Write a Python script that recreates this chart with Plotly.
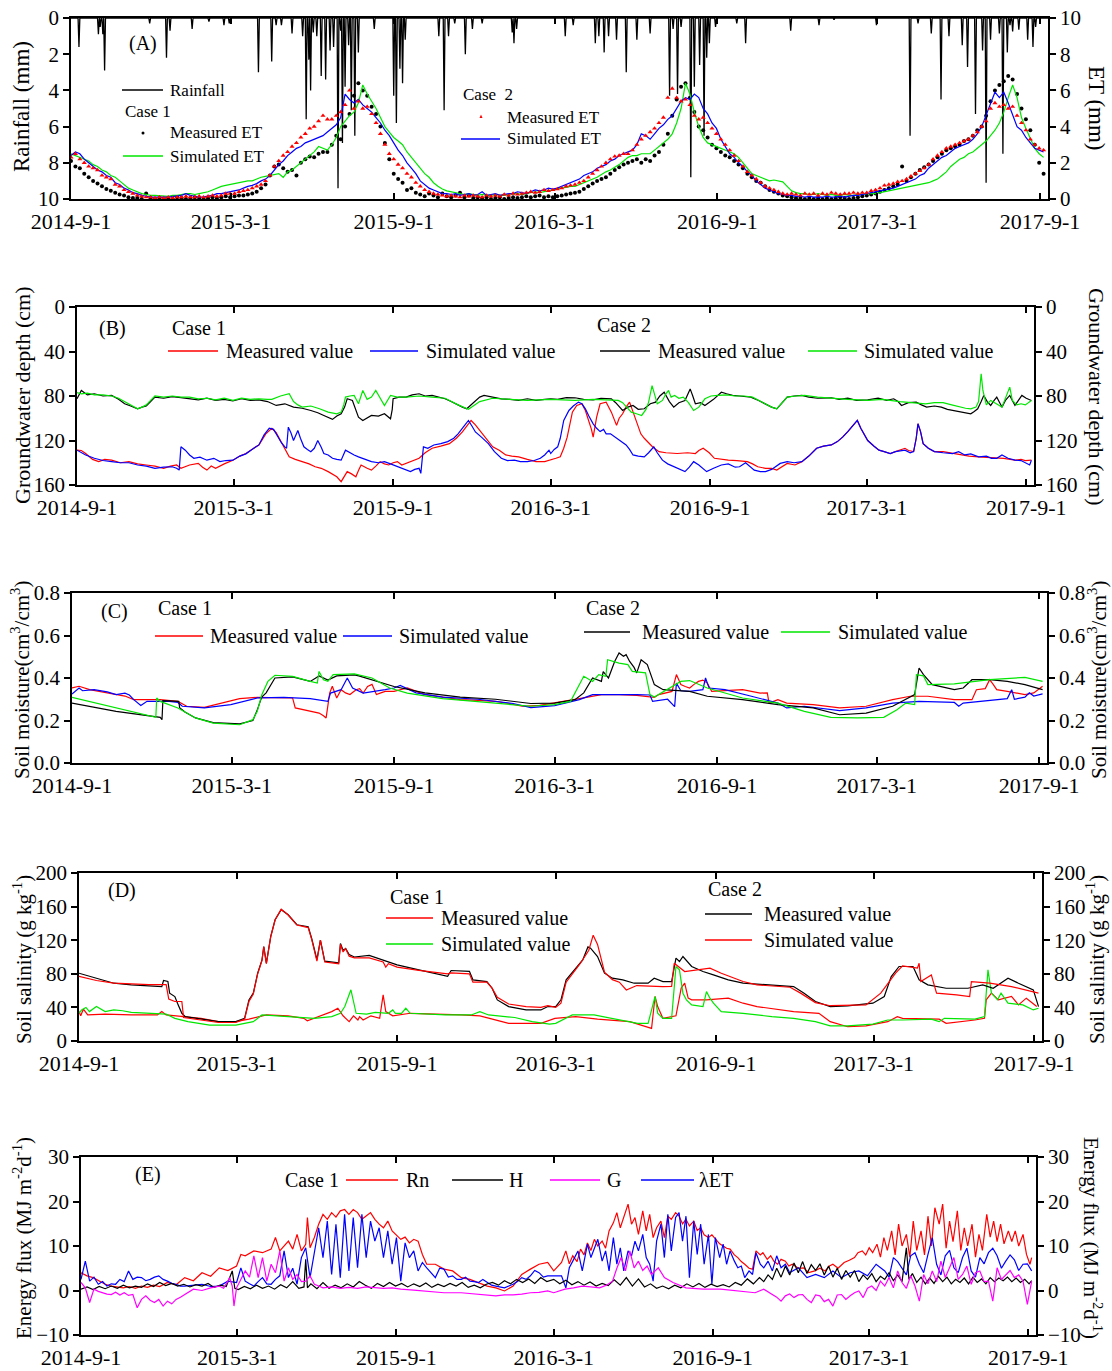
import numpy as np
import pandas as pd
import plotly.graph_objects as go

# ---------------------------------------------------------------------------
# Data (day offsets counted from 2014-09-01)
# ---------------------------------------------------------------------------

# (A) daily rainfall events: (day, mm)
rain_events = [
    (9, 1.6), (31, 0.9), (33, 0.5), (36, 0.9), (38, 2.9), (89, 0.3), (108, 2.2), (112, 0.7),
    (137, 0.6), (156, 0.2), (173, 0.4), (179, 0.3), (212, 3.0), (227, 2.4), (232, 0.4),
    (238, 0.4), (250, 0.85), (262, 1.0), (266, 5.6), (269, 2.3), (271, 4.0), (274, 0.8),
    (278, 1.0), (283, 3.2), (288, 3.4), (293, 1.8), (297, 1.6), (302, 9.4), (305, 0.7),
    (307, 6.9), (310, 3.8), (314, 1.5), (317, 5.1), (321, 6.5), (325, 1.9), (343, 0.6),
    (365, 4.3), (368, 5.8), (372, 2.8), (375, 3.6), (378, 1.2), (416, 1.0), (422, 5.1),
    (427, 1.0), (434, 0.3), (446, 2.0), (454, 0.6), (465, 0.3), (499, 0.8), (501, 1.4),
    (504, 0.6), (559, 1.0), (568, 0.4), (593, 1.4), (597, 1.0), (603, 1.9), (608, 1.0),
    (617, 1.2), (628, 3.0), (640, 1.2), (655, 0.85), (677, 4.3), (681, 0.6), (686, 4.2),
    (690, 0.5), (701, 8.8), (705, 3.8), (711, 2.6), (716, 6.5), (719, 2.2), (722, 1.4),
    (729, 0.5), (753, 0.3), (763, 1.4), (814, 0.7), (846, 0.4), (863, 0.1), (911, 0.4),
    (949, 6.5), (958, 0.3), (973, 0.85), (984, 4.5), (993, 1.0), (1008, 1.5), (1014, 2.7),
    (1023, 5.3), (1031, 1.8), (1035, 9.1), (1040, 1.2), (1050, 0.85), (1054, 7.5),
    (1059, 1.9), (1062, 0.4), (1065, 0.75), (1072, 0.65), (1082, 1.2), (1088, 1.6), (1091, 0.5),
]

# (A) ET (mm), one value every 5 days starting on day 0
et_c1_meas = [
    2.1, 1.8, 1.7, 1.4, 1.2, 1.0, 0.85, 0.7, 0.55, 0.45, 0.35, 0.25, 0.2, 0.1, 0.05, 0.05, 0.0, 0.3, 0.05,
    0.0, 0.05, 0.0, 0.05, 0.0, 0.1, 0.05, 0.0, 0.05, 0.1, 0.05, 0.0, 0.05, 0.1, 0.05, 0.1, 0.15, 0.1,
    0.15, 0.2, 0.2, 0.25, 0.3, 0.4, 0.6, 0.8, 1.3, 1.8, 1.9, 1.7, 1.5, 1.6, 1.3, 2.0, 2.2, 2.35, 2.3,
    2.5, 2.6, 2.6, 3.0, 3.5, 3.3, 4.0, 4.7, 5.7, 6.4, 6.0, 5.7, 5.1, 4.7, 4.0, 3.1, 2.2, 1.4,
    1.1, 0.9, 0.5, 0.6, 0.35, 0.25, 0.15, 0.3, 0.2, 0.1, 0.3, 0.15, 0.1, 0.2, 0.35, 0.1, 0.2, 0.05,
    0.1, 0.05, 0.1, 0.0, 0.05, 0.1, 0.0, 0.05, 0.1, 0.05, 0.1, 0.15, 0.1, 0.15, 0.2, 0.1, 0.15, 0.1,
    0.15, 0.2, 0.25, 0.3, 0.35, 0.4, 0.55, 0.7, 0.85, 1.0, 1.1, 1.2, 1.4, 1.6, 1.75, 1.9, 2.0, 2.1,
    2.2, 2.0, 2.2, 2.1, 2.4, 2.6, 3.0, 3.6, 4.6, 5.5, 6.2, 6.4, 5.6, 4.8, 4.0, 3.8, 3.4, 3.0, 2.8,
    2.6, 2.4, 2.3, 2.1, 1.9, 1.7, 1.4, 1.2, 1.0, 0.9, 0.7, 0.5, 0.4, 0.3, 0.2, 0.15, 0.1, 0.05,
    0.05, 0.0, 0.05, 0.0, 0.05, 0.0, 0.05, 0.0, 0.05, 0.1, 0.05, 0.0, 0.05, 0.1, 0.15, 0.2, 0.25, 0.3,
    0.4, 0.5, 0.6, 0.7, 0.8, 1.8, 1.0, 1.2, 1.4, 1.6, 1.75, 1.9, 2.1, 2.3, 2.5, 2.7, 2.8, 2.9, 3.0,
    3.2, 3.3, 3.5, 3.8, 4.0, 4.6, 5.4, 6.0, 6.3, 6.5, 6.8, 6.6, 5.8, 5.0, 4.4, 3.8, 3.0, 2.0, 1.4,
]
et_c1_sim = [
    2.5, 2.4, 2.3, 2.2, 2.1, 1.9, 1.8, 1.6, 1.5, 1.3, 1.2, 1.0, 0.8, 0.6, 0.5, 0.4, 0.3, 0.25, 0.2,
    0.2, 0.18, 0.15, 0.15, 0.2, 0.2, 0.25, 0.3, 0.3, 0.25, 0.3, 0.35, 0.4, 0.5, 0.6, 0.7, 0.75, 0.8,
    0.85, 0.9, 0.95, 1.0, 1.0, 1.1, 1.2, 1.25, 1.3, 1.35, 1.4, 1.2, 1.5, 1.6, 1.8, 2.0, 2.2, 2.4, 2.6,
    2.9, 2.8, 2.7, 3.0, 3.4, 4.0, 4.3, 4.6, 4.8, 5.3, 6.3, 5.8, 5.4, 5.0, 4.5, 4.0, 3.7, 3.4,
    3.2, 3.0, 2.6, 2.3, 2.0, 1.7, 1.4, 1.2, 0.9, 0.7, 0.55, 0.45, 0.4, 0.35, 0.3, 0.25, 0.3, 0.25,
    0.2, 0.25, 0.2, 0.2, 0.25, 0.2, 0.2, 0.25, 0.3, 0.3, 0.25, 0.3, 0.35, 0.4, 0.35, 0.4, 0.45, 0.5,
    0.55, 0.6, 0.65, 0.7, 0.7, 0.8, 0.9, 1.0, 1.1, 1.2, 1.35, 1.5, 1.6, 1.75, 1.9, 2.1, 2.3, 2.4,
    2.4, 2.5, 2.5, 2.5, 2.7, 2.9, 3.1, 3.3, 3.6, 4.2, 5.0, 6.4, 5.8, 4.8, 4.0, 3.4, 3.1, 3.0, 2.9,
    2.8, 2.7, 2.6, 2.5, 2.3, 2.0, 1.7, 1.4, 1.3, 1.2, 1.1, 1.0, 1.05, 1.0, 0.95, 0.7, 0.45, 0.35,
    0.3, 0.3, 0.25, 0.25, 0.3, 0.25, 0.2, 0.25, 0.2, 0.2, 0.25, 0.2, 0.2, 0.25, 0.25, 0.3, 0.3, 0.3,
    0.35, 0.4, 0.45, 0.5, 0.55, 0.6, 0.65, 0.7, 0.75, 0.8, 0.85, 0.9, 1.0, 1.1, 1.3, 1.5, 1.8, 2.0,
    2.2, 2.3, 2.5, 2.6, 2.8, 3.0, 3.2, 3.5, 3.8, 4.2, 4.8, 5.6, 6.3, 5.6, 4.5, 3.9, 3.3, 2.8, 2.5, 2.3,
]
et_c2_meas = [
    2.3, 2.5, 2.2, 2.0, 1.8, 1.7, 1.6, 1.3, 1.2, 1.1, 0.8, 0.7, 0.5, 0.4, 0.3, 0.2, 0.15, 0.1, 0.1,
    0.05, 0.1, 0.05, 0.1, 0.05, 0.1, 0.1, 0.15, 0.1, 0.1, 0.15, 0.1, 0.15, 0.2, 0.15, 0.2, 0.3, 0.3,
    0.3, 0.4, 0.45, 0.5, 0.6, 0.7, 0.8, 1.0, 1.3, 1.8, 2.1, 2.4, 2.6, 2.9, 3.1, 3.4, 3.6, 3.9, 4.0,
    4.3, 4.6, 4.4, 4.4, 4.6, 4.8, 5.2, 6.0, 5.0, 5.4, 5.0, 5.1, 4.7, 4.2, 3.6, 3.0, 2.5, 2.2,
    1.9, 1.7, 1.4, 1.2, 0.9, 0.7, 0.5, 0.4, 0.3, 0.25, 0.2, 0.15, 0.2, 0.15, 0.1, 0.2, 0.15, 0.2,
    0.15, 0.1, 0.2, 0.15, 0.2, 0.15, 0.25, 0.2, 0.3, 0.25, 0.3, 0.35, 0.4, 0.35, 0.4, 0.5, 0.45, 0.5,
    0.55, 0.6, 0.7, 0.75, 0.8, 0.9, 1.0, 1.2, 1.4, 1.6, 1.8, 2.0, 2.2, 2.35, 2.4, 2.5, 2.5, 2.7,
    3.0, 3.3, 3.5, 3.7, 3.9, 4.2, 4.5, 5.6, 6.1, 5.6, 5.4, 5.5, 5.2, 4.6, 4.4, 4.5, 4.2, 3.9, 3.6,
    3.3, 3.0, 2.7, 2.4, 2.1, 1.8, 1.5, 1.3, 1.1, 0.9, 0.7, 0.6, 0.5, 0.4, 0.3, 0.25, 0.3, 0.25,
    0.2, 0.3, 0.25, 0.3, 0.2, 0.3, 0.25, 0.35, 0.3, 0.25, 0.3, 0.3, 0.35, 0.3, 0.35, 0.35, 0.45, 0.5,
    0.6, 0.75, 0.8, 0.85, 0.95, 1.0, 1.1, 1.25, 1.4, 1.55, 1.7, 1.9, 2.2, 2.4, 2.6, 2.8, 2.9, 3.0,
    3.1, 3.2, 3.3, 3.5, 3.7, 4.0, 4.3, 5.0, 5.3, 5.1, 5.2, 5.0, 5.1, 4.6, 4.2, 3.8, 3.3, 3.0, 2.8, 2.7,
]
et_c2_sim = [
    2.4, 2.6, 2.5, 2.2, 2.0, 1.8, 1.6, 1.5, 1.3, 1.2, 0.9, 0.8, 0.6, 0.5, 0.35, 0.3, 0.2, 0.15, 0.1,
    0.1, 0.12, 0.1, 0.1, 0.12, 0.15, 0.2, 0.3, 0.2, 0.15, 0.1, 0.12, 0.15, 0.2, 0.3, 0.3, 0.35, 0.4,
    0.45, 0.5, 0.6, 0.7, 0.75, 0.85, 1.0, 1.1, 1.3, 1.6, 1.9, 2.1, 2.4, 2.6, 2.8, 2.9, 3.1, 3.2, 3.3,
    3.4, 3.5, 3.7, 3.9, 4.1, 4.5, 5.8, 5.5, 5.3, 5.5, 5.2, 5.0, 4.8, 4.5, 4.2, 3.8, 3.5, 3.1,
    2.7, 2.4, 2.0, 1.7, 1.4, 1.0, 0.8, 0.6, 0.5, 0.4, 0.3, 0.3, 0.25, 0.3, 0.2, 0.25, 0.3, 0.2,
    0.25, 0.4, 0.2, 0.25, 0.3, 0.2, 0.25, 0.3, 0.3, 0.4, 0.35, 0.3, 0.4, 0.5, 0.45, 0.5, 0.6, 0.55,
    0.6, 0.7, 0.8, 0.9, 1.0, 1.1, 1.3, 1.4, 1.5, 1.7, 1.8, 1.9, 2.1, 2.2, 2.4, 2.5, 2.6, 2.7,
    3.0, 3.6, 3.5, 3.3, 3.6, 3.9, 4.1, 4.4, 4.6, 5.0, 5.4, 5.6, 5.5, 5.8, 5.6, 5.0, 4.7, 4.2, 3.9,
    3.3, 2.9, 2.5, 2.3, 2.0, 1.8, 1.5, 1.3, 1.0, 0.8, 0.6, 0.5, 0.4, 0.3, 0.25, 0.2, 0.2, 0.15,
    0.15, 0.1, 0.15, 0.1, 0.12, 0.1, 0.15, 0.1, 0.12, 0.15, 0.1, 0.15, 0.2, 0.2, 0.25, 0.3, 0.35, 0.4,
    0.45, 0.5, 0.55, 0.6, 0.7, 0.8, 0.9, 1.0, 1.1, 1.3, 1.4, 1.7, 1.9, 2.1, 2.3, 2.4, 2.6, 2.8,
    2.9, 3.0, 3.1, 3.3, 3.6, 4.0, 4.6, 5.3, 5.9, 5.6, 5.9, 5.3, 4.6, 4.0, 3.8, 3.4, 3.1, 2.8, 2.7, 2.6,
]

# (B) groundwater depth (cm): (day, value)
gw_c1_meas = [
    (0, 128.7), (5, 129), (10, 131.7), (18, 137), (25, 139), (32, 137), (40, 137.7), (50, 140), (60, 139),
    (70, 141), (80, 142), (90, 143), (100, 145), (108, 143), (115, 142), (120, 145), (130, 142), (140, 140.6),
    (145, 144), (150, 146.6), (155, 143), (160, 145), (170, 141), (180, 137.7), (188, 134), (195, 131.7),
    (202, 128), (210, 124), (218, 114), (225, 109), (230, 113), (235, 120), (240, 128), (245, 134.7),
    (252, 137), (260, 139), (268, 141), (275, 143.6), (282, 145), (290, 148), (295, 150), (300, 152.6),
    (305, 157), (308, 153), (312, 148), (317, 150), (322, 152.6), (325, 147), (328, 142), (335, 145),
    (340, 146.6), (345, 143), (350, 139), (355, 141), (360, 142), (365, 140), (370, 139), (375, 142),
    (380, 140.6), (388, 138), (395, 136), (402, 131), (410, 127), (420, 125), (430, 122.8), (438, 118),
    (445, 112.3), (450, 107), (455, 102), (460, 106), (465, 111), (472, 118), (480, 125.7), (488, 129),
    (495, 133), (502, 134), (510, 134.7), (520, 137), (530, 139), (540, 139), (547, 137.7), (553, 136),
    (558, 134.7), (562, 127), (566, 117), (569, 104), (572, 94.5), (577, 88.5), (583, 87), (587, 93),
    (591, 102), (594, 110), (596, 117), (598, 108), (600, 99), (604, 87), (611, 85.5), (617, 94.5),
    (620, 100), (623, 106.4), (626, 100), (630, 96), (634, 90), (638, 85.5), (641, 92), (644, 99),
    (648, 107), (651, 114), (655, 118), (659, 121), (665, 126), (672, 130), (680, 131), (693, 131.7),
    (705, 131), (714, 131.7), (718, 129), (723, 127), (730, 131), (736, 136), (744, 137), (752, 137.7),
    (762, 138), (774, 139), (780, 141), (786, 143.6), (795, 145), (802, 145), (808, 146.6), (815, 143),
    (820, 140.6), (829, 142), (837, 139), (845, 134), (854, 127), (862, 125), (871, 124), (878, 121),
    (884, 117), (890, 112), (897, 105), (901, 102), (905, 109), (913, 120), (920, 125), (926, 128.7),
    (932, 130), (939, 131.7), (945, 130), (956, 127), (960, 129), (966, 130), (969, 118), (971, 105),
    (974, 112), (977, 122.8), (983, 127), (990, 130), (1000, 130), (1011, 131.7), (1020, 133),
    (1030, 134), (1041, 134.7), (1050, 135), (1062, 136), (1070, 136), (1083, 137.7), (1090, 137),
    (1095, 138), (1102, 137.7),
]
gw_c1_sim = [
    (0, 128.7), (5, 131), (10, 133), (20, 136), (30, 138), (40, 139), (50, 140), (60, 140), (70, 142),
    (80, 143), (90, 145), (100, 144), (110, 143.6), (115, 145), (118, 146.6), (120, 125.7), (125, 128.7),
    (130, 133), (135, 136), (142, 135), (150, 137.7), (158, 136), (165, 139), (172, 138), (180, 137.7),
    (188, 134), (195, 132), (202, 128), (210, 124), (216, 115), (222, 109), (227, 110), (232, 117),
    (236, 122), (240, 125.7), (242, 127), (244, 108), (247, 113), (250, 120), (253, 115), (255, 111),
    (258, 118), (262, 125.7), (266, 128), (270, 130), (274, 127), (278, 120), (282, 126), (285, 131.7),
    (290, 133), (295, 136), (300, 137), (305, 137.7), (310, 128.7), (315, 131), (320, 133), (325, 134.7),
    (332, 137), (340, 139), (348, 140), (355, 139), (362, 141), (370, 143.6), (378, 146), (385, 148),
    (390, 146), (395, 145), (397, 149.6), (400, 125.7), (405, 127), (412, 124), (420, 122.8), (428, 121),
    (435, 118), (440, 114), (446, 108), (452, 102), (456, 107), (460, 112.3), (467, 117), (475, 122.8),
    (482, 130), (490, 136), (497, 138), (505, 137.7), (512, 139), (520, 139), (528, 138), (535, 136),
    (540, 133), (545, 128.7), (547, 131.7), (551, 128), (555, 125.7), (558, 118), (562, 102), (565, 97),
    (568, 93), (573, 89), (579, 85.5), (583, 87), (587, 91.5), (591, 98), (596, 105), (600, 109),
    (604, 112), (608, 110), (611, 114), (616, 114), (621, 117), (627, 120), (634, 124), (638, 128),
    (642, 133), (648, 134), (655, 134.7), (660, 131), (666, 125.7), (670, 131), (676, 137.7), (682, 141),
    (689, 143.6), (695, 146), (702, 148), (707, 144), (712, 139), (718, 142), (727, 148), (735, 145),
    (744, 142), (752, 141), (760, 144), (765, 143.6), (772, 140), (782, 146.6), (789, 148), (795, 148),
    (802, 146), (812, 140.6), (820, 139), (828, 140), (837, 139), (845, 134), (854, 127), (862, 125),
    (871, 124), (878, 121), (884, 117), (890, 112), (897, 105), (901, 102), (905, 109), (913, 120),
    (920, 125), (926, 128.7), (932, 130), (939, 131.7), (945, 130), (956, 128.7), (962, 131), (966, 130),
    (969, 118), (971, 105), (974, 112), (977, 122.8), (983, 127), (990, 130), (1000, 131), (1011, 131.7),
    (1018, 130), (1025, 133), (1032, 132), (1041, 134.7), (1050, 134), (1056, 136), (1062, 136),
    (1068, 133), (1075, 136), (1083, 137.7), (1090, 138), (1095, 140), (1100, 142), (1102, 137.7),
]
gw_c2_meas = [
    (0, 82.5), (5, 75), (12, 79), (20, 78), (30, 80), (40, 79.5), (48, 83), (55, 87), (62, 89), (70, 91.5),
    (75, 90), (80, 89), (85, 85), (90, 81), (100, 82), (110, 80.5), (120, 81.5), (130, 82.5), (140, 83.5),
    (150, 82), (160, 84), (170, 83), (180, 84.5), (190, 82.5), (200, 84), (210, 83.5), (220, 85),
    (230, 88.5), (240, 87), (250, 90), (260, 91), (270, 93), (278, 95), (285, 97.5), (290, 99), (295, 101),
    (300, 98), (305, 96), (309, 90), (312, 82.5), (318, 84), (322, 92), (325, 99), (330, 102), (335, 100),
    (340, 97.5), (348, 98), (355, 96), (362, 100.5), (364, 92), (365, 82.5), (372, 81), (380, 81),
    (387, 79), (395, 78), (402, 80), (410, 79.5), (418, 81), (425, 82.5), (432, 85), (440, 88.5),
    (445, 90), (450, 91.5), (455, 88), (460, 84), (465, 81), (470, 79.5), (480, 81), (490, 82.5),
    (500, 83), (510, 84), (520, 82.5), (530, 84), (540, 83), (547, 82.5), (555, 83), (565, 81.5),
    (575, 81.6), (585, 83), (596, 83.5), (605, 82), (617, 82.5), (622, 86), (630, 93), (636, 90),
    (642, 88.5), (648, 92), (655, 91.5), (662, 87), (668, 85.5), (673, 80), (678, 76.6), (684, 85),
    (689, 90), (695, 86), (702, 84), (705, 78), (708, 73.6), (711, 80), (714, 87), (720, 86), (725, 88.5),
    (735, 83), (744, 76.6), (750, 78), (757, 79.5), (765, 80), (778, 81), (787, 84), (795, 87), (802, 90),
    (808, 91.5), (814, 86), (820, 81), (828, 80), (837, 79.5), (845, 81), (855, 82), (871, 81.6),
    (880, 83), (890, 82), (900, 84), (913, 83.5), (925, 82), (935, 84), (943, 82.5), (948, 85),
    (952, 88.5), (960, 86), (969, 85.5), (975, 88), (981, 90), (990, 89), (998, 90), (1005, 92),
    (1012, 93), (1019, 94.5), (1025, 95), (1032, 96), (1036, 94), (1040, 91.5), (1044, 85), (1047, 79.5),
    (1051, 85), (1055, 88.5), (1059, 84), (1062, 81), (1066, 87), (1068, 90), (1072, 84), (1077, 79.5),
    (1080, 84), (1083, 88.5), (1087, 84), (1091, 79.5), (1096, 82), (1102, 84),
]
gw_c2_sim = [
    (0, 77), (5, 78), (12, 77.5), (20, 79), (30, 79), (40, 80), (48, 82), (55, 85), (62, 88), (70, 91.5),
    (75, 90), (80, 88), (85, 84), (90, 80), (100, 81), (110, 80), (120, 81), (130, 81), (140, 82.5),
    (150, 82), (160, 83.5), (170, 82), (180, 84), (190, 82), (200, 83), (210, 82.5), (220, 83), (225, 83),
    (235, 80), (245, 78), (250, 85), (255, 88), (260, 90), (270, 89), (280, 91.5), (290, 94.5), (300, 96),
    (305, 94.5), (308, 88), (310, 81), (315, 80), (320, 79.5), (325, 87), (330, 75), (335, 83), (340, 81),
    (345, 75), (350, 82), (355, 88.5), (362, 79.5), (370, 81), (380, 81), (395, 80), (410, 81), (425, 82),
    (440, 88), (452, 92), (465, 85), (480, 82), (500, 83), (520, 84), (547, 83), (575, 84), (596, 83),
    (617, 84), (625, 84), (630, 86), (635, 90), (640, 94.5), (646, 96), (652, 97.5), (657, 92),
    (660, 85.5), (664, 70.6), (667, 80), (670, 87), (676, 84), (680, 78), (683, 75), (686, 81),
    (690, 79.5), (695, 82), (700, 81), (706, 86), (712, 93), (718, 90), (725, 82.5), (732, 80),
    (740, 79.5), (750, 79), (760, 80), (770, 80), (780, 81), (787, 84), (795, 87), (802, 90), (808, 91.5),
    (814, 86), (820, 81), (830, 80), (840, 79.5), (855, 81), (870, 82), (890, 83), (913, 84), (930, 83),
    (950, 85), (965, 86), (980, 87), (990, 86), (1000, 86), (1010, 88), (1019, 90), (1026, 91),
    (1032, 91.5), (1038, 90), (1041, 85), (1044, 60), (1046, 75), (1050, 88), (1055, 84), (1060, 86),
    (1064, 88), (1068, 90), (1072, 82), (1075, 76), (1077, 72), (1080, 84), (1085, 88), (1090, 87),
    (1095, 88), (1102, 84),
]

# (C) soil moisture (cm3/cm3): (day, value)
sm_c1_meas = [
    (0, 0.353), (8, 0.361), (20, 0.345), (35, 0.335), (50, 0.322), (60, 0.315), (70, 0.298), (85, 0.298),
    (100, 0.298), (120, 0.29), (130, 0.267), (150, 0.262), (170, 0.282), (190, 0.303), (210, 0.309),
    (240, 0.309), (250, 0.306), (253, 0.259), (262, 0.251), (272, 0.245), (280, 0.235), (285, 0.222),
    (288, 0.212), (292, 0.329), (295, 0.361), (300, 0.306), (305, 0.345), (310, 0.33), (315, 0.322),
    (322, 0.345), (326, 0.35), (330, 0.329), (335, 0.36), (340, 0.37), (345, 0.322), (350, 0.33),
    (355, 0.337), (365, 0.337), (380, 0.353), (400, 0.322), (420, 0.31), (440, 0.298), (460, 0.295),
    (480, 0.29), (495, 0.28), (510, 0.267), (530, 0.271), (547, 0.282), (575, 0.303), (600, 0.322),
    (620, 0.322), (640, 0.318), (660, 0.309), (665, 0.322), (680, 0.337), (685, 0.416), (690, 0.369),
    (695, 0.36), (700, 0.353), (705, 0.37), (710, 0.384), (715, 0.39), (720, 0.376), (725, 0.337),
    (740, 0.34), (760, 0.345), (780, 0.329), (788, 0.33), (790, 0.282), (800, 0.298), (810, 0.282),
    (840, 0.275), (870, 0.259), (900, 0.267), (930, 0.298), (950, 0.314), (970, 0.314), (1000, 0.298),
    (1020, 0.298), (1025, 0.345), (1035, 0.35), (1040, 0.392), (1044, 0.37), (1048, 0.345), (1060, 0.337),
    (1080, 0.322), (1090, 0.33), (1100, 0.361),
]
sm_c1_sim = [
    (0, 0.325), (8, 0.353), (12, 0.34), (25, 0.345), (40, 0.335), (50, 0.322), (60, 0.329), (65, 0.32),
    (70, 0.298), (78, 0.271), (85, 0.29), (110, 0.29), (120, 0.285), (125, 0.267), (150, 0.259),
    (180, 0.275), (210, 0.306), (240, 0.309), (270, 0.303), (290, 0.29), (293, 0.329), (305, 0.345),
    (312, 0.4), (318, 0.353), (330, 0.329), (345, 0.337), (355, 0.345), (365, 0.353), (372, 0.365),
    (390, 0.33), (420, 0.31), (460, 0.3), (500, 0.28), (520, 0.261), (535, 0.265), (547, 0.27),
    (575, 0.298), (590, 0.322), (640, 0.322), (655, 0.32), (658, 0.29), (675, 0.3), (683, 0.265),
    (685, 0.376), (690, 0.34), (700, 0.337), (715, 0.345), (718, 0.4), (722, 0.353), (740, 0.345),
    (770, 0.314), (800, 0.282), (810, 0.259), (830, 0.267), (870, 0.246), (900, 0.259), (930, 0.282),
    (960, 0.29), (1000, 0.285), (1005, 0.267), (1010, 0.282), (1040, 0.293), (1060, 0.303), (1065, 0.345),
    (1068, 0.3), (1080, 0.31), (1085, 0.33), (1090, 0.315), (1100, 0.325),
]
sm_c2_meas = [
    (0, 0.282), (50, 0.243), (100, 0.215), (102, 0.204), (103, 0.293), (115, 0.29), (121, 0.29),
    (122, 0.26), (128, 0.24), (140, 0.212), (160, 0.19), (190, 0.184), (205, 0.2), (210, 0.25),
    (215, 0.31), (220, 0.33), (230, 0.4), (250, 0.405), (270, 0.384), (280, 0.41), (290, 0.39),
    (300, 0.41), (320, 0.415), (325, 0.41), (340, 0.39), (365, 0.36), (400, 0.33), (440, 0.31),
    (480, 0.3), (520, 0.28), (547, 0.282), (570, 0.298), (580, 0.33), (590, 0.4), (600, 0.384),
    (602, 0.43), (608, 0.4), (615, 0.478), (620, 0.518), (625, 0.502), (628, 0.51), (632, 0.478),
    (637, 0.45), (640, 0.424), (645, 0.486), (652, 0.463), (660, 0.369), (670, 0.345), (700, 0.337),
    (720, 0.314), (760, 0.298), (800, 0.275), (840, 0.259), (870, 0.227), (900, 0.235), (930, 0.267),
    (955, 0.322), (960, 0.447), (965, 0.416), (975, 0.369), (1000, 0.345), (1010, 0.353), (1020, 0.392),
    (1040, 0.392), (1060, 0.384), (1080, 0.369), (1100, 0.345),
]
sm_c2_sim = [
    (0, 0.309), (50, 0.259), (95, 0.215), (96, 0.306), (100, 0.29), (120, 0.259), (140, 0.212),
    (160, 0.188), (190, 0.18), (205, 0.204), (210, 0.243), (215, 0.32), (222, 0.384), (230, 0.413),
    (250, 0.408), (270, 0.384), (278, 0.376), (280, 0.431), (285, 0.392), (290, 0.384), (296, 0.416),
    (320, 0.419), (340, 0.4), (360, 0.353), (380, 0.329), (420, 0.303), (480, 0.282), (520, 0.267),
    (547, 0.275), (565, 0.29), (580, 0.408), (590, 0.384), (597, 0.416), (605, 0.408), (607, 0.486),
    (620, 0.47), (630, 0.463), (635, 0.431), (650, 0.424), (655, 0.322), (660, 0.31), (690, 0.384),
    (700, 0.388), (720, 0.353), (760, 0.306), (800, 0.282), (830, 0.243), (860, 0.215), (890, 0.212),
    (920, 0.215), (935, 0.251), (945, 0.282), (955, 0.275), (957, 0.416), (965, 0.41), (970, 0.369),
    (1000, 0.372), (1040, 0.392), (1080, 0.403), (1100, 0.384),
]

# (D) soil salinity (g/kg): (day, value)
sal_c1_meas = [
    (0, 35), (2, 30), (5, 38), (10, 31), (30, 32), (60, 31), (90, 31), (95, 35), (100, 31), (120, 29),
    (140, 27), (160, 23), (180, 23), (195, 26), (215, 31), (240, 30), (258, 27), (262, 24), (270, 27),
    (280, 31), (290, 35), (297, 39), (303, 30), (310, 23), (315, 30), (320, 25), (322, 29), (326, 25),
    (335, 30), (345, 27), (349, 55), (352, 35), (360, 30), (380, 33), (420, 32), (439, 31), (460, 30),
    (480, 25), (493, 21), (530, 21), (546, 27), (570, 29), (595, 26), (632, 23), (653, 17), (657, 15),
    (661, 53), (664, 41), (670, 27), (680, 29), (685, 30), (691, 63), (695, 68.8), (699, 51), (703, 49),
    (720, 49), (745, 51), (762, 45), (778, 41), (820, 35), (849, 33), (862, 23), (882, 17), (903, 18),
    (928, 23), (939, 29), (945, 27), (987, 26), (995, 21), (1028, 25), (1039, 27), (1041, 49), (1047, 57),
    (1055, 49), (1070, 53), (1078, 43), (1087, 51), (1099, 41),
]
sal_c1_sim = [
    (0, 33), (3, 37), (8, 40), (12, 35), (20, 41), (30, 35), (40, 37), (50, 36), (60, 34), (80, 33),
    (100, 32), (110, 27), (125, 23), (150, 19), (180, 19), (200, 23), (210, 31), (240, 29), (270, 27),
    (290, 29), (300, 33), (305, 41), (312, 61), (318, 33), (330, 32), (340, 34), (355, 33), (360, 37),
    (363, 33), (370, 33), (375, 39), (380, 33), (420, 31), (450, 31), (460, 35), (470, 31), (500, 28),
    (520, 23), (540, 20), (547, 21), (566, 31), (591, 31), (612, 27), (641, 21), (653, 21), (661, 53),
    (664, 33), (670, 27), (680, 27), (685, 88.7), (689, 84.7), (693, 56.9), (697, 49), (703, 43),
    (716, 41), (720, 58.8), (724, 51), (728, 45), (737, 35), (762, 33), (795, 29), (820, 27), (845, 23),
    (862, 18), (882, 18), (911, 20), (928, 25), (945, 25), (978, 26), (987, 23), (993, 27), (1028, 26),
    (1039, 29), (1043, 84.7), (1047, 56.9), (1054, 49), (1058, 56.9), (1066, 45), (1083, 43), (1095, 37),
    (1101, 39),
]
sal_c2_meas = [
    (0, 80.7), (20, 74.8), (40, 68.8), (60, 66.8), (80, 65.6), (95, 64.8), (97, 72), (102, 70.8),
    (104, 56.9), (110, 52.9), (113, 45), (118, 33), (122, 29), (140, 25.8), (160, 23), (180, 23),
    (190, 27), (195, 48.9), (200, 56.9), (205, 80.7), (210, 96.6), (212, 112.5), (215, 92.6),
    (220, 124.5), (225, 144.3), (232, 156.3), (240, 150.3), (250, 138.4), (263, 136), (267, 122),
    (273, 97), (277, 120), (282, 95), (298, 93), (300, 116), (303, 108), (306, 110), (310, 103),
    (316, 100), (333, 102), (349, 96.6), (365, 90.7), (390, 84.7), (423, 77), (427, 83.9), (448, 83),
    (452, 72.8), (468, 70.8), (474, 62.8), (480, 48.9), (493, 41), (513, 37), (530, 37), (538, 41),
    (547, 41), (553, 49), (559, 72.8), (568, 84.7), (578, 96.6), (584, 112), (587, 110.5), (595, 100.6),
    (603, 80.7), (612, 74.8), (624, 72.8), (637, 68.8), (653, 68.8), (660, 74.8), (670, 70.8),
    (680, 70.8), (685, 98.6), (689, 94.6), (693, 100.6), (703, 88.7), (716, 82.7), (728, 78.7),
    (745, 72.8), (762, 68.8), (795, 66.8), (820, 64.8), (832, 56.9), (845, 47), (862, 41), (882, 41.7),
    (911, 45), (924, 52.9), (932, 76.7), (941, 88.7), (957, 88.7), (964, 72.8), (974, 66.8), (995, 62.8),
    (1020, 62.8), (1037, 66.8), (1049, 62.8), (1066, 74.8), (1078, 68.8), (1095, 60.8), (1101, 41),
]
sal_c2_sim = [
    (0, 77), (20, 72), (40, 69), (60, 68), (80, 67), (100, 67), (103, 50), (110, 47), (118, 47), (120, 28),
    (140, 25), (160, 22), (180, 22), (190, 26), (195, 47), (200, 56), (205, 80), (210, 96), (212, 112),
    (215, 92), (220, 124), (225, 144), (232, 157), (240, 150), (250, 138), (263, 135), (267, 121),
    (273, 95), (277, 120), (282, 94), (298, 92), (300, 115), (303, 106), (306, 110), (310, 101),
    (316, 99), (333, 99), (349, 94), (352, 88), (355, 92), (365, 88), (390, 84), (423, 80), (427, 81),
    (448, 80), (452, 70), (468, 70), (474, 63), (480, 52), (493, 44), (513, 41), (530, 40), (538, 42),
    (547, 40), (553, 45), (559, 70), (575, 92), (585, 108), (590, 126), (595, 115), (603, 82), (612, 73),
    (620, 70), (628, 60.8), (640, 66), (660, 65), (670, 64.8), (680, 65), (683, 92.6), (695, 82.7),
    (710, 85), (724, 86.7), (737, 80.7), (762, 70.8), (778, 66.8), (816, 64), (828, 57), (845, 45.7),
    (862, 42), (903, 43), (920, 56.9), (937, 80.7), (945, 89.5), (962, 86.7), (964, 92.6), (966, 70.8),
    (978, 78.7), (984, 56.9), (1007, 54.9), (1022, 52.9), (1024, 70.8), (1045, 68.8), (1070, 64.8),
    (1101, 56.9),
]

# (E) energy flux (MJ m-2 d-1): (day, value)
flux_rn = [
    (0, 4.0), (7, 3.3), (14, 2.9), (21, 2.1), (28, 1.4), (35, 1.0), (42, 0.8), (49, 0.6), (56, 0.9),
    (63, 0.5), (70, 1.0), (77, 0.7), (84, 1.2), (91, 0.9), (100, 1.8), (110, 1.3), (120, 2.9), (130, 2.2),
    (140, 4.0), (150, 3.2), (160, 5.1), (170, 4.5), (180, 5.5), (185, 8.1), (190, 7.8), (200, 8.9),
    (210, 8.5), (220, 9.3), (225, 11.9), (230, 8.9), (240, 11.1), (245, 9.3), (250, 12.6), (255, 8.9),
    (260, 10.4), (262, 16.4), (265, 9.6), (270, 11.9), (275, 14.9), (280, 17.1), (285, 16.0), (290, 17.5),
    (295, 16.5), (300, 17.9), (305, 18.2), (310, 17.1), (315, 18.2), (320, 17.5), (325, 16.0), (330, 16.7),
    (335, 17.5), (340, 16.0), (345, 14.9), (350, 14.1), (355, 15.6), (360, 13.4), (365, 12.5), (370, 11.5),
    (375, 12.0), (380, 10.7), (385, 11.5), (390, 11.1), (395, 8.1), (400, 5.9), (410, 5.9), (420, 4.8),
    (430, 4.4), (440, 2.9), (450, 2.5), (460, 1.8), (470, 1.0), (480, 0.6), (490, -0.1), (500, 1.0),
    (510, 3.6), (520, 4.8), (530, 5.9), (540, 6.3), (547, 4.4), (556, 6.3), (561, 8.9), (565, 6.0),
    (569, 7.8), (574, 6.5), (578, 9.3), (582, 8.0), (586, 10.7), (590, 9.0), (594, 11.5), (598, 10.0),
    (603, 11.1), (607, 9.5), (611, 13.4), (616, 15.2), (620, 17.5), (624, 14.1), (628, 16.4), (633, 19.4),
    (637, 14.9), (641, 16.4), (645, 12.6), (650, 17.9), (654, 13.4), (658, 17.1), (662, 11.9), (666, 14.1),
    (671, 15.6), (675, 11.9), (679, 16.7), (683, 16.0), (688, 17.5), (692, 16.7), (696, 15.0), (700, 16.0),
    (704, 14.5), (709, 15.6), (713, 13.5), (717, 14.1), (721, 12.5), (726, 11.9), (730, 12.5), (734, 11.5),
    (739, 10.5), (743, 10.0), (747, 9.5), (751, 9.3), (756, 8.0), (760, 7.4), (764, 6.5), (768, 5.9),
    (773, 5.0), (777, 4.8), (781, 8.9), (786, 8.0), (789, 8.5), (794, 7.0), (798, 7.8), (802, 6.5),
    (806, 5.9), (810, 7.0), (815, 6.6), (819, 5.5), (823, 5.9), (830, 5.0), (836, 5.1), (842, 4.0),
    (849, 4.4), (855, 5.0), (861, 4.4), (866, 5.5), (870, 5.9), (876, 5.0), (883, 6.3), (889, 6.8),
    (895, 7.4), (899, 8.5), (904, 8.9), (908, 8.0), (912, 9.6), (916, 8.5), (921, 10.4), (925, 7.5),
    (929, 11.9), (933, 9.0), (938, 13.4), (942, 8.0), (946, 14.9), (950, 10.0), (955, 12.6), (959, 7.5),
    (963, 15.6), (967, 9.0), (972, 13.4), (976, 8.0), (980, 16.7), (984, 10.0), (988, 18.6), (993, 14.9),
    (997, 19.4), (1001, 9.5), (1005, 15.6), (1009, 11.0), (1014, 17.9), (1018, 9.0), (1022, 14.1),
    (1026, 10.0), (1031, 14.9), (1035, 7.5), (1039, 12.6), (1043, 9.0), (1048, 17.1), (1052, 12.0),
    (1056, 15.6), (1060, 11.0), (1064, 14.9), (1068, 10.5), (1073, 13.4), (1077, 11.0), (1081, 13.4),
    (1085, 10.0), (1090, 12.6), (1094, 8.1), (1098, 5.9), (1100, 7.4),
]
flux_let = [
    (0, 2.5), (5, 6.6), (10, 2.1), (15, 3.0), (20, 1.4), (25, 2.0), (30, 1.0), (35, 1.5), (40, 1.4),
    (45, 2.5), (50, 2.0), (55, 4.4), (60, 2.5), (65, 3.0), (70, 2.9), (75, 2.2), (80, 2.5), (85, 3.0),
    (90, 3.3), (95, 2.5), (100, 2.1), (105, 1.6), (110, 1.4), (115, 1.0), (120, 1.0), (130, 1.2),
    (140, 1.4), (150, 0.9), (160, 1.0), (170, 2.1), (180, 1.8), (185, 5.1), (190, 2.1), (195, 1.5),
    (200, 1.0), (205, 2.0), (210, 2.9), (215, 1.5), (220, 1.4), (225, 2.5), (230, 3.3), (235, 8.9),
    (240, 2.9), (245, 5.0), (250, 1.4), (255, 7.4), (260, 9.6), (265, 2.9), (270, 8.5), (275, 14.1),
    (280, 7.4), (285, 15.6), (290, 3.6), (295, 14.9), (300, 2.9), (305, 17.1), (310, 4.4), (315, 16.4),
    (320, 5.1), (325, 17.1), (330, 7.4), (335, 15.6), (340, 11.1), (345, 14.1), (350, 7.4), (355, 13.4),
    (360, 5.9), (365, 11.9), (370, 2.1), (375, 10.7), (380, 7.4), (385, 8.9), (390, 4.4), (395, 6.3),
    (400, 5.1), (405, 4.0), (410, 2.9), (415, 5.0), (420, 4.8), (425, 3.0), (430, 3.3), (435, 2.5),
    (440, 2.5), (445, 3.0), (450, 2.1), (455, 2.0), (460, 1.8), (465, 2.5), (470, 1.8), (475, 1.2),
    (480, 1.0), (485, 0.8), (490, 0.6), (495, 1.0), (500, 1.4), (505, 2.0), (510, 2.9), (515, 2.5),
    (520, 3.3), (525, 4.5), (530, 4.0), (535, 3.0), (540, 3.3), (547, 3.3), (556, 3.3), (561, 0.6),
    (565, 5.1), (569, 6.6), (575, 8.9), (580, 4.4), (586, 10.4), (590, 7.4), (594, 9.6), (598, 11.5),
    (603, 6.6), (607, 8.9), (611, 4.4), (616, 11.9), (620, 5.9), (624, 9.6), (628, 4.4), (633, 8.9),
    (637, 7.8), (641, 11.1), (645, 8.9), (650, 12.6), (654, 7.4), (658, 5.9), (662, 2.1), (666, 11.1),
    (671, 14.9), (675, 7.4), (679, 17.1), (683, 8.9), (688, 16.4), (692, 17.5), (696, 11.1), (700, 16.7),
    (704, 2.9), (709, 15.6), (713, 8.1), (717, 14.9), (721, 5.9), (726, 12.6), (730, 1.4), (734, 11.9),
    (739, 7.4), (743, 10.4), (747, 5.9), (751, 8.9), (756, 6.6), (760, 5.1), (764, 5.5), (768, 2.9),
    (773, 4.4), (777, 3.6), (781, 8.5), (786, 5.9), (790, 5.1), (795, 6.6), (800, 4.4), (805, 7.8),
    (810, 5.1), (815, 5.9), (820, 4.0), (830, 5.1), (840, 2.9), (850, 3.6), (860, 2.9), (870, 4.4),
    (880, 2.9), (890, 4.0), (900, 4.4), (910, 3.3), (920, 5.9), (930, 4.4), (935, 3.0), (940, 7.4),
    (945, 6.5), (950, 5.1), (955, 3.5), (960, 7.8), (965, 8.5), (970, 5.9), (975, 4.0), (980, 8.1),
    (985, 11.9), (990, 5.9), (995, 3.5), (1000, 7.8), (1005, 9.0), (1010, 5.1), (1015, 4.0), (1020, 7.4),
    (1025, 9.5), (1030, 4.4), (1035, 3.0), (1040, 7.4), (1045, 6.0), (1050, 8.5), (1055, 9.5), (1060, 7.8),
    (1065, 5.0), (1070, 6.6), (1075, 8.0), (1080, 6.9), (1085, 4.5), (1090, 5.9), (1095, 6.0), (1100, 4.4),
]
flux_h = [
    (0, 0.3), (7, 0.8), (14, 0.2), (21, 0.9), (28, 0.4), (35, 1.0), (42, 0.5), (49, 1.2), (56, 0.6),
    (63, 1.0), (70, 0.7), (77, 1.5), (84, 0.9), (91, 1.8), (98, 1.1), (105, 1.6), (112, 1.0), (119, 1.4),
    (126, 0.8), (133, 1.3), (140, 1.0), (147, 1.6), (154, 0.7), (161, 1.2), (168, 0.9), (175, 4.4),
    (178, 0.5), (182, 0.2), (189, 0.9), (196, 0.4), (203, 1.2), (210, 0.5), (217, 1.0), (224, 0.3),
    (231, 1.3), (238, 0.6), (245, 2.0), (252, 0.5), (258, 0.8), (260, 7.0), (262, 0.6), (266, 1.5),
    (273, 0.4), (280, 1.8), (287, 0.5), (294, 1.2), (301, 0.6), (308, 1.5), (315, 0.8), (322, 2.0),
    (329, 1.2), (336, 0.5), (343, 1.6), (350, 0.9), (357, 1.8), (364, 1.0), (371, 1.6), (378, 0.8),
    (385, 1.5), (392, 0.9), (399, 1.7), (406, 0.7), (413, 1.4), (420, 0.9), (427, 1.6), (434, 1.0),
    (441, 1.8), (448, 0.7), (455, 1.2), (462, 0.6), (469, 1.4), (476, 1.8), (483, 1.2), (490, 2.2),
    (497, 1.5), (504, 2.5), (511, 1.8), (518, 2.6), (525, 1.6), (532, 2.9), (539, 2.0), (547, 2.5),
    (554, 1.5), (561, 2.3), (568, 1.3), (575, 2.0), (582, 1.2), (589, 1.9), (596, 1.0), (603, 1.6),
    (610, 1.1), (617, 2.4), (624, 1.2), (631, 2.9), (638, 1.0), (645, 2.6), (652, 0.8), (659, 1.5),
    (666, 0.5), (673, 1.0), (680, 0.4), (687, 1.2), (694, 0.6), (701, 1.5), (708, 0.8), (715, 1.6),
    (722, 0.7), (729, 1.4), (736, 0.9), (743, 1.3), (750, 0.8), (757, 1.8), (764, 1.2), (771, 2.6),
    (778, 1.5), (785, 2.9), (790, 2.0), (795, 3.5), (800, 2.5), (805, 5.0), (810, 3.0), (815, 5.5),
    (820, 3.5), (825, 6.2), (830, 4.0), (835, 6.5), (840, 3.8), (845, 5.8), (850, 4.5), (855, 6.0),
    (860, 3.5), (865, 5.5), (870, 3.0), (875, 5.0), (880, 2.5), (885, 4.5), (890, 3.0), (895, 4.5),
    (900, 2.0), (905, 3.5), (910, 2.5), (915, 3.8), (920, 2.0), (925, 3.2), (930, 2.5), (935, 4.0),
    (940, 2.2), (945, 3.5), (950, 2.0), (955, 9.6), (958, 2.5), (962, 3.8), (967, 1.8), (972, 3.0),
    (977, 1.5), (982, 2.8), (987, 1.6), (992, 3.2), (997, 2.0), (1002, 3.0), (1007, 1.5), (1012, 2.5),
    (1017, 1.8), (1022, 2.8), (1027, 1.5), (1032, 3.0), (1037, 1.8), (1042, 2.6), (1047, 1.5), (1052, 2.9),
    (1057, 2.0), (1062, 2.8), (1067, 2.2), (1072, 3.0), (1077, 2.0), (1082, 2.8), (1087, 1.8), (1092, 2.5),
    (1097, 1.5), (1100, 2.2),
]
flux_g = [
    (0, 1.8), (5, 0.6), (10, -2.7), (15, 0.3), (20, -0.2), (25, -0.5), (30, -0.8), (35, -0.9), (40, -0.4),
    (45, -1.0), (50, -0.5), (55, -1.1), (60, -0.9), (65, -3.9), (70, -2.0), (75, -1.2), (80, -2.2),
    (85, -2.7), (90, -2.0), (95, -3.5), (100, -2.4), (105, -3.0), (110, -2.0), (115, -1.5), (120, -0.9),
    (125, -0.3), (130, 0.3), (140, 0.0), (150, 0.6), (160, 1.0), (165, 0.5), (170, 2.1), (172, 2.9),
    (175, 1.0), (177, -3.5), (180, 0.6), (185, 2.5), (190, 4.4), (195, 3.0), (200, 7.8), (205, 2.9),
    (210, 7.4), (215, 2.1), (220, 5.9), (225, 4.0), (230, 8.9), (235, 2.1), (240, 5.1), (245, 2.5),
    (250, 3.6), (255, 2.0), (260, 2.1), (265, 3.3), (270, 1.4), (275, 1.0), (280, 0.6), (290, 0.8),
    (300, 0.5), (310, 0.7), (320, 0.5), (330, 0.8), (340, 0.6), (350, 0.5), (360, 0.6), (370, 0.3),
    (385, 0.1), (400, -0.1), (420, -0.5), (440, -0.5), (455, -0.7), (470, -0.9), (480, -1.2), (490, -1.0),
    (500, -1.0), (510, -0.8), (520, -0.5), (530, -0.4), (540, -0.1), (547, -0.5), (560, 0.3), (570, 0.6),
    (580, 1.0), (590, 0.8), (600, 0.6), (608, 1.2), (615, 2.1), (620, 5.0), (625, 7.4), (630, 4.4),
    (635, 8.9), (640, 5.1), (645, 6.6), (650, 4.5), (655, 5.5), (660, 3.6), (668, 5.1), (675, 2.9),
    (685, 1.8), (700, 0.6), (720, 0.3), (740, 0.3), (760, -0.1), (780, -0.5), (790, 0.3), (800, -0.9),
    (805, -1.5), (810, -2.4), (815, -1.2), (820, -0.8), (825, -1.6), (830, -1.0), (835, -0.9), (840, -2.0),
    (845, -2.7), (850, -1.0), (855, -1.2), (860, -2.5), (865, -2.0), (870, -3.5), (875, -1.0), (880, -0.9),
    (885, -2.0), (890, -1.2), (895, -0.5), (900, -0.1), (905, -1.6), (910, 0.5), (915, 1.0), (920, 0.0),
    (925, 2.1), (930, 1.0), (935, 2.9), (940, 0.6), (945, 4.4), (950, 1.8), (955, 0.5), (960, 3.3),
    (965, 1.0), (970, -2.4), (975, 3.6), (980, 1.5), (985, 4.4), (990, 2.0), (995, 6.6), (1000, 2.9),
    (1005, 5.0), (1010, 7.4), (1015, 2.5), (1020, 3.6), (1025, 5.5), (1030, 1.4), (1035, 4.0), (1040, 4.4),
    (1045, 2.0), (1050, 2.1), (1055, -2.4), (1060, 5.1), (1065, 2.5), (1070, 3.6), (1075, 4.5),
    (1080, 2.9), (1085, 3.5), (1090, 2.1), (1095, -3.1), (1100, 2.1),
]

tick_dates = ["2014-09-01", "2015-03-01", "2015-09-01", "2016-03-01",
              "2016-09-01", "2017-03-01", "2017-09-01"]
tick_text = ["2014-9-1", "2015-3-1", "2015-9-1", "2016-3-1",
             "2016-9-1", "2017-3-1", "2017-9-1"]

# ---------------------------------------------------------------------------
# Helpers
# ---------------------------------------------------------------------------
START = pd.Timestamp("2014-09-01")
X_END = START + pd.Timedelta(days=1105)
W, H = 1112, 1371
FONT = "Liberation Serif"

RED, BLUE, GREEN, BLACK, MAGENTA = "#ff0000", "#0000ff", "#00e600", "#000000", "#ff00ff"


def to_dates(days):
    return START + pd.to_timedelta(np.asarray(days, dtype=float), unit="D")


def unpack(pairs):
    d, v = zip(*pairs)
    return to_dates(d), list(v)


def five_day(values):
    return to_dates(np.arange(len(values)) * 5), values


def sfx(n):
    return "" if n == 1 else str(n)


def px(x):
    return x / W


def py(y):
    return 1 - y / H


fig = go.Figure()


def add_line(xy, color, yref_n, xref_n, width=1.2):
    x, y = xy
    fig.add_trace(go.Scatter(x=x, y=y, mode="lines", line=dict(color=color, width=width),
                             xaxis="x" + sfx(xref_n), yaxis="y" + sfx(yref_n),
                             showlegend=False, hoverinfo="skip"))


# ---------------------------------------------------------------------------
# (A) rainfall (left, reversed) and ET (right)
# ---------------------------------------------------------------------------
rain_daily = np.zeros(1106)
for d, v in rain_events:
    rain_daily[d] = v
add_line((to_dates(np.arange(len(rain_daily))), rain_daily), BLACK, 1, 1, width=1.3)

x, y = five_day(et_c1_meas)
fig.add_trace(go.Scatter(x=x, y=y, mode="markers", marker=dict(color=BLACK, size=4),
                         xaxis="x", yaxis="y6", showlegend=False, hoverinfo="skip"))
add_line(five_day(et_c1_sim), GREEN, 6, 1)
add_line(five_day(et_c2_sim), BLUE, 6, 1)
x, y = five_day(et_c2_meas)
fig.add_trace(go.Scatter(x=x, y=y, mode="markers",
                         marker=dict(color=RED, size=4.5, symbol="triangle-up"),
                         xaxis="x", yaxis="y6", showlegend=False, hoverinfo="skip"))

# (B) groundwater depth
add_line(unpack(gw_c1_meas), RED, 2, 2)
add_line(unpack(gw_c1_sim), BLUE, 2, 2)
add_line(unpack(gw_c2_meas), BLACK, 7, 2)
add_line(unpack(gw_c2_sim), GREEN, 7, 2)

# (C) soil moisture
add_line(unpack(sm_c1_meas), RED, 3, 3)
add_line(unpack(sm_c1_sim), BLUE, 3, 3)
add_line(unpack(sm_c2_meas), BLACK, 8, 3)
add_line(unpack(sm_c2_sim), GREEN, 8, 3)

# (D) soil salinity
add_line(unpack(sal_c1_meas), RED, 4, 4)
add_line(unpack(sal_c1_sim), GREEN, 4, 4)
add_line(unpack(sal_c2_meas), BLACK, 9, 4)
add_line(unpack(sal_c2_sim), RED, 9, 4)

# (E) energy balance components
add_line(unpack(flux_rn), RED, 5, 5)
add_line(unpack(flux_let), BLUE, 5, 5)
add_line(unpack(flux_h), BLACK, 10, 5)
add_line(unpack(flux_g), MAGENTA, 10, 5)

# ---------------------------------------------------------------------------
# Axes
# ---------------------------------------------------------------------------
boxes = {  # left, right, top, bottom in pixels
    1: (71, 1048, 18, 199),
    2: (77, 1034, 307, 485),
    3: (72, 1047, 593, 763),
    4: (79, 1042, 873, 1041),
    5: (81, 1036, 1157, 1335),
}
y_specs = {
    1: (dict(range=[10, 0], dtick=2), dict(range=[0, 10], dtick=2)),
    2: (dict(range=[160, 0], dtick=40), dict(range=[160, 0], dtick=40)),
    3: (dict(range=[0, 0.8], dtick=0.2, tickformat=".1f"), dict(range=[0, 0.8], dtick=0.2, tickformat=".1f")),
    4: (dict(range=[0, 200], dtick=40), dict(range=[0, 200], dtick=40)),
    5: (dict(range=[-10, 30], dtick=10), dict(range=[-10, 30], dtick=10)),
}
axis_common = dict(showline=True, linecolor="black", linewidth=1.5, showgrid=False,
                   zeroline=False, ticklen=6, tickwidth=1.5, tickcolor="black",
                   automargin=False)
layout_axes = {}
for i, (l, r, t, b) in boxes.items():
    layout_axes["xaxis" + sfx(i)] = dict(
        domain=[px(l), px(r)], range=[START, X_END], tickmode="array",
        tickvals=tick_dates, ticktext=tick_text, ticks="inside", mirror="ticks",
        ticklabelstandoff=2,
        anchor="y" + sfx(i), tickfont=dict(family=FONT, size=22, color="black"), **axis_common)
    left, right = y_specs[i]
    layout_axes["yaxis" + sfx(i)] = dict(
        domain=[py(b), py(t)], anchor="x" + sfx(i), side="left", ticks="outside",
        tickfont=dict(family=FONT, size=21, color="black"), **left, **axis_common)
    layout_axes["yaxis" + sfx(i + 5)] = dict(
        domain=[py(b), py(t)], anchor="x" + sfx(i), overlaying="y" + sfx(i), side="right",
        ticks="outside", tickfont=dict(family=FONT, size=21, color="black"), **right, **axis_common)

# ---------------------------------------------------------------------------
# Titles, panel tags and legends
# ---------------------------------------------------------------------------
annotations = []
shapes = []


def text(x, y, s, size=20, anchor="left", angle=0):
    annotations.append(dict(x=px(x), y=py(y), xref="paper", yref="paper", text=s,
                            showarrow=False, xanchor=anchor, yanchor="middle", textangle=angle,
                            font=dict(family=FONT, size=size, color="black")))


def seg(x0, x1, y, color, width=1.5):
    shapes.append(dict(type="line", xref="paper", yref="paper", x0=px(x0), x1=px(x1),
                       y0=py(y), y1=py(y), line=dict(color=color, width=width)))


# axis titles
text(22, 107, "Rainfall (mm)", 23, "center", -90)
text(1097, 108, "ET (mm)", 23, "center", 90)
text(22, 396, "Groundwater depth (cm)", 22, "center", -90)
text(1097, 396, "Groundwater depth (cm)", 22, "center", 90)
text(20, 680, "Soil moisture(cm<sup>3</sup>/cm<sup>3</sup>)", 21, "center", -90)
text(1097, 680, "Soil moisture(cm<sup>3</sup>/cm<sup>3</sup>)", 21, "center", -90)
text(22, 960, "Soil salinity (g kg<sup>-1</sup>)", 21, "center", -90)
text(1095, 960, "Soil salinity (g kg<sup>-1</sup>)", 21, "center", -90)
text(22, 1238, "Energy flux (MJ m<sup>-2</sup>d<sup>-1</sup>)", 21, "center", -90)
text(1093, 1238, "Energy flux (MJ m<sup>-2</sup>d<sup>-1</sup>)", 21, "center", 90)

# panel tags
text(143, 44, "(A)", 20, "center")
text(112, 328, "(B)", 20, "center")
text(114, 612, "(C)", 20, "center")
text(122, 891, "(D)", 20, "center")
text(148, 1174, "(E)", 20, "center")

# (A) legend
seg(122, 163, 90, BLACK)
text(168, 90, "Rainfall", 17)
text(123, 112, "Case 1", 17)
shapes.append(dict(type="circle", xref="paper", yref="paper", x0=px(141.5), x1=px(144.5),
                   y0=py(134.5), y1=py(131.5), fillcolor=BLACK, line=dict(width=0)))
text(168, 133, "Measured ET", 17)
seg(123, 163, 156, GREEN)
text(168, 156, "Simulated ET", 17)
text(461, 95, "Case  2", 17)
shapes.append(dict(type="path", xref="paper", yref="paper",
                   path=f"M {px(479.5)},{py(118)} L {px(482.5)},{py(118)} L {px(481)},{py(114.5)} Z",
                   fillcolor=RED, line=dict(width=0)))
text(505, 117, "Measured ET", 17)
seg(461, 500, 139, BLUE)
text(505, 139, "Simulated ET", 17)

# (B) legend
text(170, 328, "Case 1")
seg(168, 218, 351, RED)
text(224, 351, "Measured value")
seg(370, 418, 351, BLUE)
text(424, 351, "Simulated value")
text(595, 325, "Case 2")
seg(600, 650, 351, BLACK)
text(656, 351, "Measured value")
seg(808, 857, 351, GREEN)
text(862, 351, "Simulated value")

# (C) legend
text(156, 608, "Case 1")
seg(155, 203, 636, RED)
text(208, 636, "Measured value")
seg(343, 392, 636, BLUE)
text(397, 636, "Simulated value")
text(584, 608, "Case 2")
seg(584, 630, 632, BLACK)
text(640, 632, "Measured value")
seg(781, 830, 632, GREEN)
text(836, 632, "Simulated value")

# (D) legend
text(388, 897, "Case 1")
seg(386, 433, 918, RED)
text(439, 918, "Measured value")
seg(386, 433, 944, GREEN)
text(439, 944, "Simulated value")
text(706, 889, "Case 2")
seg(705, 752, 914, BLACK)
text(762, 914, "Measured value")
seg(705, 752, 940, RED)
text(762, 940, "Simulated value")

# (E) legend
text(283, 1180, "Case 1")
seg(346, 398, 1180, RED)
text(404, 1180, "Rn")
seg(452, 503, 1180, BLACK)
text(507, 1180, "H")
seg(550, 600, 1180, MAGENTA)
text(605, 1180, "G")
seg(641, 694, 1180, BLUE)
text(697, 1180, "λET")

fig.update_layout(
    width=W, height=H, margin=dict(l=0, r=0, t=0, b=0),
    paper_bgcolor="white", plot_bgcolor="white",
    font=dict(family=FONT, color="black"),
    showlegend=False, annotations=annotations, shapes=shapes,
    **layout_axes,
)

fig.write_html("out.html")
